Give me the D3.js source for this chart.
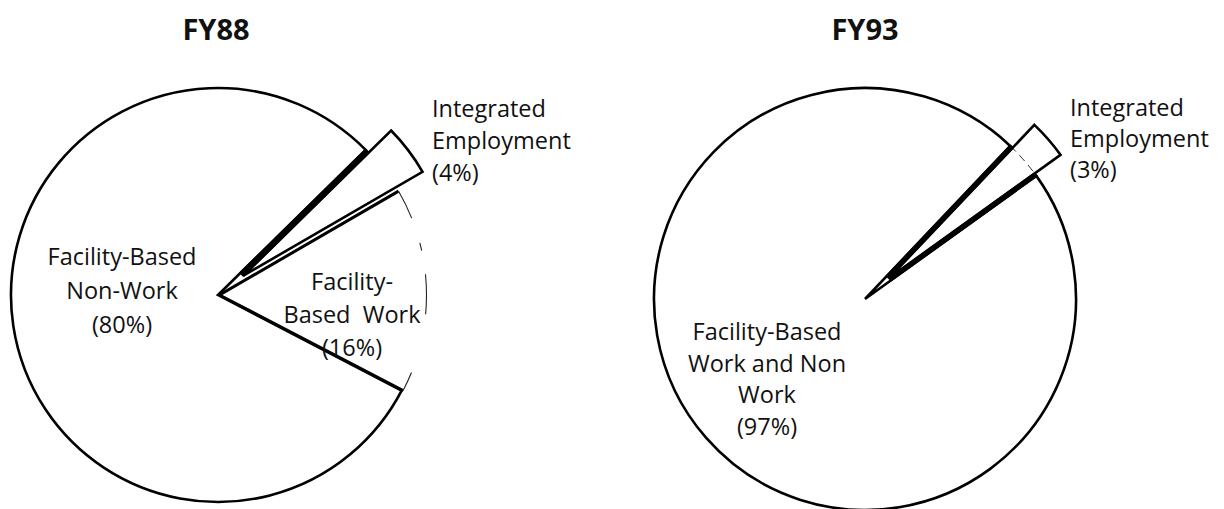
<!DOCTYPE html>
<html><head><meta charset="utf-8">
<script src="https://cdn.jsdelivr.net/npm/d3@7"></script>
<style>body{margin:0;background:#fff}svg{display:block}</style>
</head><body>
<svg id="chart" width="1224" height="509"></svg>
<script>
// ---- data ----
const titles = ["FY88", "FY93"];
const fy88Categories = ["Integrated Employment", "Facility-Based Work", "Facility-Based Non-Work"];
const fy88Values = [4, 16, 80];
const fy88Labels = [["Integrated", "Employment", "(4%)"], ["Facility-", "Based  Work", "(16%)"], ["Facility-Based", "Non-Work", "(80%)"]];
const fy93Categories = ["Integrated Employment", "Facility-Based Work and Non Work"];
const fy93Values = [3, 97];
const fy93Labels = [["Integrated", "Employment", "(3%)"], ["Facility-Based", "Work and Non", "Work", "(97%)"]];

// ---- layout ----
const deg = Math.PI / 180;
const charts = [
  { title: titles[0], cats: fy88Categories, values: fy88Values, labels: fy88Labels,
    cx: 218, cy: 295, r: 207, start: 45.5 * deg, titleX: 216,
    explode: [32, 1.5, 0], dashedArc: [false, true, false], ghostArc: [false, false, false],
    gapFill: [[true, false], null, null],
    labelPos: [{x: 432, y: 117, anchor: "start", lh: 32}, {x: 352, y: 290, anchor: "middle", lh: 33}, {x: 122, y: 265, anchor: "middle", lh: 34}] },
  { title: titles[1], cats: fy93Categories, values: fy93Values, labels: fy93Labels,
    cx: 865, cy: 299, r: 211, start: 43.5 * deg, titleX: 865,
    explode: [32, 0], dashedArc: [false, false], ghostArc: [true, false],
    gapFill: [[true, true], null],
    labelPos: [{x: 1070, y: 116, anchor: "start", lh: 31}, {x: 767, y: 340, anchor: "middle", lh: 31.5}] }
];

const svg = d3.select("#chart");
const font = "'Open Sans', 'Noto Sans', sans-serif";

charts.forEach(c => {
  svg.append("text").attr("x", c.titleX).attr("y", 40).attr("text-anchor", "middle")
    .attr("font-family", font).attr("font-weight", 700).attr("font-size", 29).attr("fill", "#111")
    .text(c.title);

  const g = svg.append("g").attr("transform", `translate(${c.cx},${c.cy})`);
  const pie = d3.pie().sort(null).value(d => d).startAngle(c.start).endAngle(c.start + 2 * Math.PI);
  const arcs = pie(c.values);
  const arcGen = d3.arc().innerRadius(0).outerRadius(c.r);

  const order = arcs.map((a, i) => i).sort((a, b) => c.explode[a] - c.explode[b]);
  order.forEach(i => {
    const a = arcs[i];
    const mid = (a.startAngle + a.endAngle) / 2;
    const d = c.explode[i];
    const tx = d * Math.sin(mid), ty = -d * Math.cos(mid);
    const sg = g.append("g").attr("transform", `translate(${tx},${ty})`);
    if (c.dashedArc[i]) {
      sg.append("path").attr("d", arcGen(a)).attr("fill", "#fff").attr("stroke", "none");
      const p0 = [c.r * Math.sin(a.startAngle), -c.r * Math.cos(a.startAngle)];
      const p1 = [c.r * Math.sin(a.endAngle), -c.r * Math.cos(a.endAngle)];
      sg.append("path").attr("d", `M${p0[0]},${p0[1]}L0,0L${p1[0]},${p1[1]}`)
        .attr("fill", "none").attr("stroke", "#000").attr("stroke-width", 3).attr("stroke-linejoin", "miter");
      const ap = d3.path();
      ap.arc(0, 0, c.r, a.startAngle - Math.PI / 2, a.endAngle - Math.PI / 2);
      sg.append("path").attr("d", ap.toString()).attr("fill", "none").attr("stroke", "#222")
        .attr("stroke-width", 1.1).attr("stroke-dasharray", "30 26 8 24 40 60");
    } else {
      sg.append("path").attr("d", arcGen(a)).attr("fill", "#fff").attr("stroke", "#000")
        .attr("stroke-width", 2.6).attr("stroke-linejoin", "miter");
    }
    if (c.ghostArc[i]) {
      const ap = d3.path();
      ap.arc(-tx, -ty, c.r, a.startAngle - Math.PI / 2, a.endAngle - Math.PI / 2);
      sg.append("path").attr("d", ap.toString()).attr("fill", "none").attr("stroke", "#333")
        .attr("stroke-width", 1).attr("stroke-dasharray", "8 5");
    }
    // black fill between exploded wedge edge and neighbouring slice edge (merged thick line)
    if (c.gapFill[i]) {
      const k = c.r - d * 0.99;
      [a.startAngle, a.endAngle].forEach((ang, s) => {
        if (!c.gapFill[i][s]) return;
        const u = [Math.sin(ang), -Math.cos(ang)];
        const proj = tx * u[0] + ty * u[1];
        const pts = [
          [proj * u[0], proj * u[1]],
          [tx, ty],
          [tx + k * u[0], ty + k * u[1]],
          [(proj + k) * u[0], (proj + k) * u[1]]
        ];
        g.append("path").attr("d", "M" + pts.map(p => p.join(",")).join("L") + "Z")
          .attr("fill", "#000").attr("stroke", "#000").attr("stroke-width", 2.2).attr("stroke-linejoin", "round");
      });
    }
  });

  c.labels.forEach((lines, i) => {
    const lp = c.labelPos[i];
    const t = svg.append("text").attr("text-anchor", lp.anchor)
      .attr("font-family", font).attr("font-size", 23.5).attr("fill", "#111")
      .style("white-space", "pre");
    lines.forEach((ln, k) => {
      t.append("tspan").attr("x", lp.x).attr("y", lp.y + k * lp.lh).text(ln);
    });
  });
});
</script>
</body></html>
